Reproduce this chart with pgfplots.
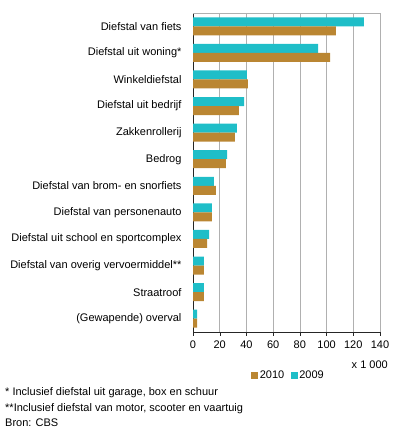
\documentclass[border=0pt]{standalone}
\usepackage{pgfplots}
\pgfplotsset{compat=1.18}
\usepackage{fontspec}
\setmainfont{Liberation Sans}
\definecolor{cteal}{RGB}{31,190,200}
\definecolor{cbrown}{RGB}{186,134,50}
\definecolor{cgrid}{RGB}{176,176,176}
\begin{document}
\begin{tikzpicture}[font=\fontsize{11}{13}\selectfont]
\useasboundingbox (0,0) rectangle (396pt,435pt);
\begin{axis}[
  at={(193pt,103pt)}, anchor=south west,
  scale only axis, width=187pt, height=319pt,
  xbar, bar width=9pt,
  xmin=0, xmax=140, ymin=-0.5, ymax=11.5,
  xtick={0,20,...,140},
  ytick={0,...,11},
  yticklabels={(Gewapende) overval,Straatroof,Diefstal van overig vervoermiddel**,Diefstal uit school en sportcomplex,Diefstal van personenauto,Diefstal van brom- en snorfiets,Bedrog,Zakkenrollerij,Diefstal uit bedrijf,Winkeldiefstal,Diefstal uit woning*,Diefstal van fiets},
  /pgf/number format/assume math mode=true,
  tick label style={font=\fontsize{11}{13}\selectfont},
  yticklabel style={xshift=-4pt},
  xticklabel style={yshift=-1pt},
  axis lines=left, axis line style={-, draw=black!85},
  xmajorgrids, grid style={cgrid, line width=0.7pt},
  tick align=outside, major tick length=4pt,
  ytick style={draw=none},
  xtick style={draw=black!85},
  legend image code/.code={\fill[#1] (0pt,-3.5pt) rectangle (7pt,3.5pt);},
  legend columns=2,
  legend style={draw=none, fill=none, at={(0.295,-0.135)}, anchor=west,
    font=\fontsize{11}{13}\selectfont,
    nodes={inner sep=1.5pt},
    /tikz/every even column/.append style={column sep=5pt}},
  after end axis/.code={\draw[cgrid, line width=0.7pt] (rel axis cs:0,1) -- (rel axis cs:1,1);},
]
\addplot[draw=none, fill=cteal, bar shift=4.5pt, forget plot] coordinates {
(128,11) (93.6,10) (40.3,9) (38.2,8) (32.9,7) (25.5,6) (15.7,5) (14.2,4) (12,3) (8.2,2) (8.2,1) (3,0)};
\addplot[draw=none, fill=cbrown, bar shift=-4.5pt, forget plot] coordinates {
(107,11) (102.6,10) (41,9) (34.4,8) (31.4,7) (24.7,6) (17.2,5) (14.2,4) (10.5,3) (8.2,2) (8.2,1) (3,0)};
\addlegendimage{draw=none, fill=cbrown}
\addlegendentry{2010}
\addlegendimage{draw=none, fill=cteal}
\addlegendentry{2009}
\end{axis}
\node[anchor=east, inner sep=0pt] at (388pt,70pt) {x 1 000};
\node[anchor=west, inner sep=0pt] at (5pt,42pt) {* Inclusief diefstal uit garage, box en schuur};
\node[anchor=west, inner sep=0pt] at (5pt,26.5pt) {**Inclusief diefstal van motor, scooter en vaartuig};
\node[anchor=west, inner sep=0pt] at (5pt,12.5pt) {Bron: CBS};
\end{tikzpicture}
\end{document}
